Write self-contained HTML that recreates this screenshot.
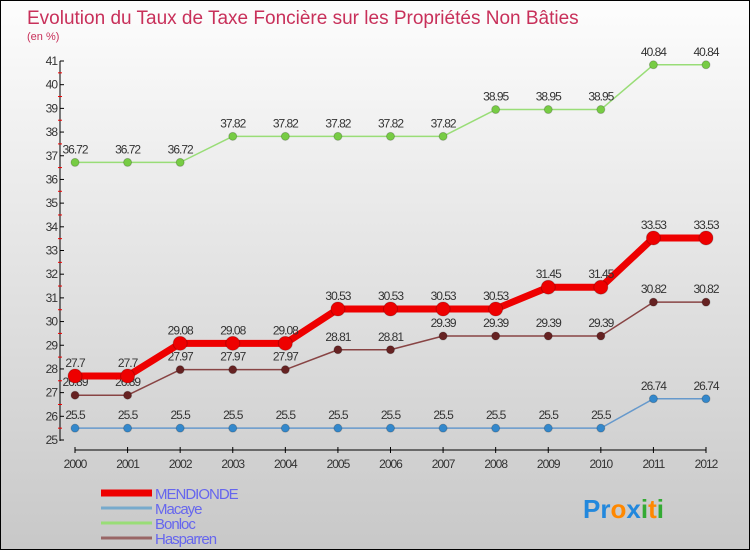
<!DOCTYPE html>
<html><head><meta charset="utf-8"><style>
body{margin:0;width:750px;height:550px;overflow:hidden;font-family:"Liberation Sans",sans-serif}
#wrap{position:relative;width:748px;height:548px;border:1px solid #000;background:linear-gradient(#fdfdfd,#c8c8c8)}
</style></head><body>
<div id="wrap">
<svg id="chart" width="748" height="548">
<text x="26" y="23" font-size="19" fill="#c8305a">Evolution du Taux de Taxe Foncière sur les Propriétés Non Bâties</text>
<text x="26" y="39" font-size="11" fill="#c8305a">(en %)</text>
</svg>
</div>
<script>
const years=["2000","2001","2002","2003","2004","2005","2006","2007","2008","2009","2010","2011","2012"];
const mendionde=[27.7,27.7,29.08,29.08,29.08,30.53,30.53,30.53,30.53,31.45,31.45,33.53,33.53];
const macaye=[25.5,25.5,25.5,25.5,25.5,25.5,25.5,25.5,25.5,25.5,25.5,26.74,26.74];
const bonloc=[36.72,36.72,36.72,37.82,37.82,37.82,37.82,37.82,38.95,38.95,38.95,40.84,40.84];
const hasparren=[26.89,26.89,27.97,27.97,27.97,28.81,28.81,29.39,29.39,29.39,29.39,30.82,30.82];
const yTicks=[25,26,27,28,29,30,31,32,33,34,35,36,37,38,39,40,41];
const NS="http://www.w3.org/2000/svg";
const svg=document.getElementById('chart');
function y(v){return 439-(v-25)*(439-60)/16;}
function x(i){return 74+i*(705-74)/12;}
function el(t,a,p){const e=document.createElementNS(NS,t);for(const k in a)e.setAttribute(k,a[k]);(p||svg).appendChild(e);return e;}
// axes
let ax=el('line',{x1:59,y1:60,x2:59,y2:440,stroke:'#000','stroke-width':1});


let xa=el('line',{x1:74,y1:449,x2:705,y2:449,stroke:'#000','stroke-width':1});


yTicks.forEach(v=>{
  el('line',{x1:59,y1:y(v),x2:63,y2:y(v),stroke:'#000'});
  if(v<41)el('line',{x1:57,y1:y(v+0.5),x2:61,y2:y(v+0.5),stroke:'#e00'});
  const t=el('text',{x:56,y:y(v)+4,'font-size':12,'text-anchor':'end',fill:'#333','letter-spacing':'-1'});
  t.textContent=v;
  
  
});
years.forEach((yr,i)=>{
  el('line',{x1:x(i),y1:446,x2:x(i),y2:452,stroke:'#000'});
  const t=el('text',{x:x(i),y:467,'font-size':12,'text-anchor':'middle',fill:'#333','letter-spacing':'-1'});
  t.textContent=yr;
  
  
});
function series(data,name,color,w,r,dot){
  const g=el('g',{});
  
  
  el('polyline',{points:data.map((v,i)=>x(i)+','+y(v)).join(' '),fill:'none',stroke:color,'stroke-width':w,'stroke-linejoin':'round'},g);
  data.forEach((v,i)=>{
    const c=el('circle',{cx:x(i),cy:y(v),r:r,fill:dot,stroke:'#0003'},g);
    
    
    const t=el('text',{x:x(i),y:y(v)-9,'font-size':12,'text-anchor':'middle',fill:'#333','letter-spacing':'-1'},g);
    t.textContent=v;
    
    
  });
}
series(bonloc,'bonloc','#99dd77',1.5,4,'#77cc44');
series(macaye,'macaye','#6699cc',1.5,4,'#3388cc');
series(hasparren,'hasparren','#884444',1.5,4,'#662222');
series(mendionde,'mendionde','#ee0000',7,7,'#ee0000');
// legend
const leg=[['MENDIONDE','#ee0000',7],['Macaye','#77aacc',3],['Bonloc','#99dd77',3],['Hasparren','#996666',3]];
leg.forEach((l,i)=>{
  const yy=492+i*15;
  const s=el('line',{x1:100,y1:yy,x2:151,y2:yy,stroke:l[1],'stroke-width':l[2]});
  
  
  const t=el('text',{x:154,y:yy+6,'font-size':15,fill:'#6666ee','letter-spacing':'-1'});
  t.textContent=l[0];
  
  
});
const logo=el('text',{x:582,y:517,'font-size':26,'font-weight':'bold'});


[['Pr','#2288dd'],['o','#ff8800'],['x','#2288dd'],['i','#33aa33'],['t','#ff8800'],['i','#33aa33']].forEach(p=>{const s=el('tspan',{fill:p[1]},logo);s.textContent=p[0];});
</script>
</body></html>
